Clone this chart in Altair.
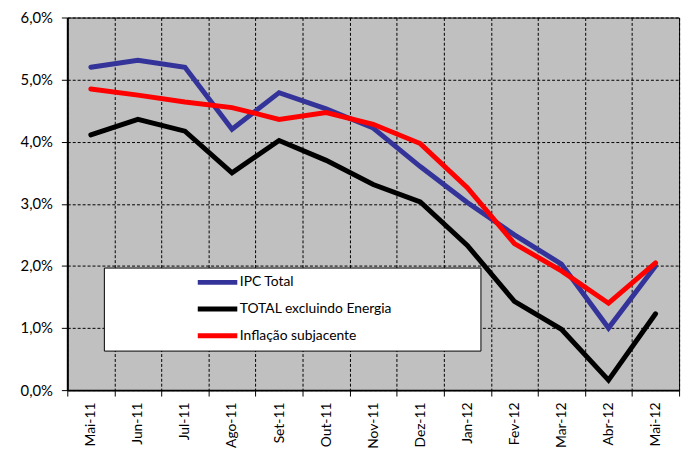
import altair as alt
import pandas as pd

months = ["Mai-11", "Jun-11", "Jul-11", "Ago-11", "Set-11", "Out-11", "Nov-11",
          "Dez-11", "Jan-12", "Fev-12", "Mar-12", "Abr-12", "Mai-12"]
series_names = ["IPC Total", "TOTAL excluindo Energia", "Inflação subjacente"]
ipc_total = [5.20, 5.31, 5.20, 4.20, 4.79, 4.53, 4.22, 3.60, 3.02, 2.50, 2.03, 1.00, 2.00]
total_excl = [4.11, 4.36, 4.17, 3.50, 4.02, 3.70, 3.31, 3.03, 2.33, 1.43, 0.98, 0.16, 1.23]
inflacao = [4.85, 4.75, 4.64, 4.55, 4.36, 4.47, 4.28, 3.97, 3.26, 2.36, 1.92, 1.40, 2.05]
colors = ["#333399", "#000000", "#FF0000"]

rows = []
for name, vals in zip(series_names, [ipc_total, total_excl, inflacao]):
    for m, v in zip(months, vals):
        rows.append({"mes": m, "serie": name, "valor": v})
df = pd.DataFrame(rows)

chart = alt.Chart(df).mark_line(strokeWidth=5, strokeCap="round", strokeJoin="miter").encode(
    x=alt.X("mes:N", sort=months, title=None,
            axis=alt.Axis(labelAngle=-90, labelAlign="right", labelBaseline="middle",
                          tickBand="extent", grid=True, gridColor="#000000",
                          gridDash=[3, 2], gridWidth=1, tickColor="#000000",
                          tickSize=6, labelFontSize=14, labelColor="#000000",
                          labelFont="Lato", labelPadding=6,
                          domainColor="#000000", domainWidth=2)),
    y=alt.Y("valor:Q", title=None,
            scale=alt.Scale(domain=[0, 6], nice=False),
            axis=alt.Axis(values=[0, 1, 2, 3, 4, 5, 6],
                          labelExpr="replace(format(datum.value, '.1f'), '.', ',') + '%'",
                          grid=True, gridColor="#000000", gridDash=[3, 2], gridWidth=1,
                          tickColor="#000000", tickSize=6, labelFontSize=15,
                          labelColor="#000000", labelFont="Lato", labelPadding=9,
                          domainColor="#000000", domainWidth=2)),
    color=alt.Color("serie:N", sort=series_names,
                    scale=alt.Scale(domain=series_names, range=colors),
                    legend=alt.Legend(orient="none", legendX=37, legendY=253,
                                      title="\u00a0", titleOrient="right", titlePadding=85,
                                      fillColor="#FFFFFF", strokeColor="#000000",
                                      padding=4.5, symbolOffset=100,
                                      symbolType="M-2.5,0H2.5",
                                      symbolStrokeWidth=5, symbolSize=256,
                                      labelFontSize=14, labelFont="Lato",
                                      labelColor="#000000", rowPadding=6,
                                      labelOffset=12)),
    order=alt.Order("serie_ord:Q"),
).transform_calculate(
    serie_ord="indexof(['IPC Total','TOTAL excluindo Energia','Inflação subjacente'], datum.serie)"
).properties(
    width=619, height=377,
    background="#FFFFFF",
    autosize=alt.AutoSizeParams(type="none"),
    padding={"left": 60, "top": 7, "right": 8, "bottom": 62},
).configure_view(
    fill="#C0C0C0", stroke="#000000", strokeWidth=1
)

chart.save("out.html", embed_options={"renderer": "svg", "actions": False})
